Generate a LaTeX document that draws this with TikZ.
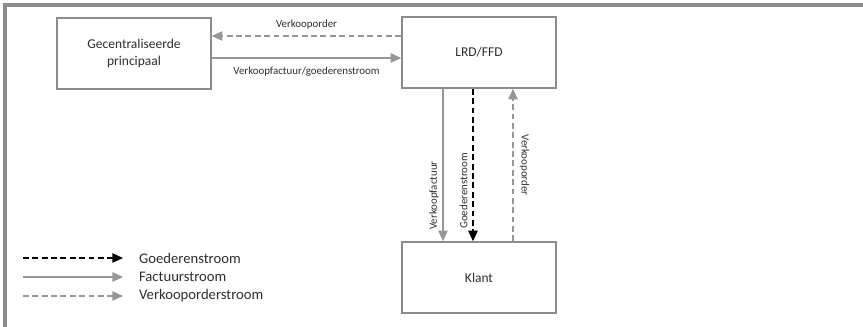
\documentclass[tikz,border=0pt]{standalone}
\usepackage{fontspec}
\setmainfont{Carlito}
\usetikzlibrary{arrows.meta}
\usetikzlibrary{calc}
\definecolor{lijn}{RGB}{150,150,150}
\definecolor{rand}{RGB}{140,140,140}
\definecolor{tekst}{RGB}{45,45,45}

\begin{document}
\begin{tikzpicture}[x=0.03cm,y=-0.03cm,
    partij/.style={draw=rand,line width=1.3pt,minimum width=4.62cm,minimum height=2.13cm,
        align=center,text=tekst,font=\fontsize{11.5}{14.5}\selectfont},
    label/.style={text=tekst,font=\fontsize{9.3}{11}\selectfont},
    goed/.style={draw=black,line width=1pt,dash pattern=on 5pt off 3pt,-{Triangle[length=9pt,width=8pt]}},
    factuur/.style={draw=lijn,line width=1pt,-{Triangle[length=9pt,width=8pt]}},
    order/.style={draw=lijn,line width=1pt,dash pattern=on 5pt off 3pt,-{Triangle[length=9pt,width=8pt]}}]
\useasboundingbox (0,0) rectangle (863,326);
\draw[rand,line width=3pt] (5,330) -- (5,5) -- (870,5);

\node[partij] (principaal) at (134,53.5) {Gecentraliseerde\\principaal};
\node[partij] (lrd) at (479,52.5) {LRD/FFD};
\node[partij] (klant) at (479,277.5) {Klant};

\draw[order] ($(lrd.west)+(0,-16.5)$) -- ($(principaal.east)+(0,-17.5)$)
    node[midway,above=2pt,label] {Verkooporder};
\draw[factuur] ($(principaal.east)+(0,4.5)$) -- ($(lrd.west)+(0,5.5)$)
    node[midway,below=4pt,label] {Verkoopfactuur/goederenstroom};

\draw[factuur] ($(lrd.south)+(-36,0)$) -- ($(klant.north)+(-36,0)$)
    node[pos=0.7,rotate=90,anchor=south,label] {Verkoopfactuur};
\draw[goed] ($(lrd.south)+(-6,0)$) -- ($(klant.north)+(-6,0)$)
    node[pos=0.67,rotate=90,anchor=south,yshift=1pt,label] {Goederenstroom};
\draw[order] ($(klant.north)+(34,0)$) -- ($(lrd.south)+(34,0)$)
    node[pos=0.5,rotate=-90,anchor=south,yshift=2pt,label] {Verkooporder};

\coordinate (g1) at (23,258);
\coordinate (g2) at (123,258);
\coordinate (f1) at (23,277);
\coordinate (f2) at (123,277);
\coordinate (v1) at (23,296);
\coordinate (v2) at (123,296);
\draw[goed] (g1) -- (g2);
\draw[factuur] (f1) -- (f2);
\draw[order] (v1) -- (v2);
\node[label,font=\fontsize{12.5}{15}\selectfont,anchor=west] (goedtekst) at (135,258) {Goederenstroom};
\node[label,font=\fontsize{12.5}{15}\selectfont,anchor=west] (factuurtekst) at (135,277) {Factuurstroom};
\node[label,font=\fontsize{12.5}{15}\selectfont,anchor=west] (ordertekst) at (135,296) {Verkooporderstroom};
\end{tikzpicture}
\end{document}
